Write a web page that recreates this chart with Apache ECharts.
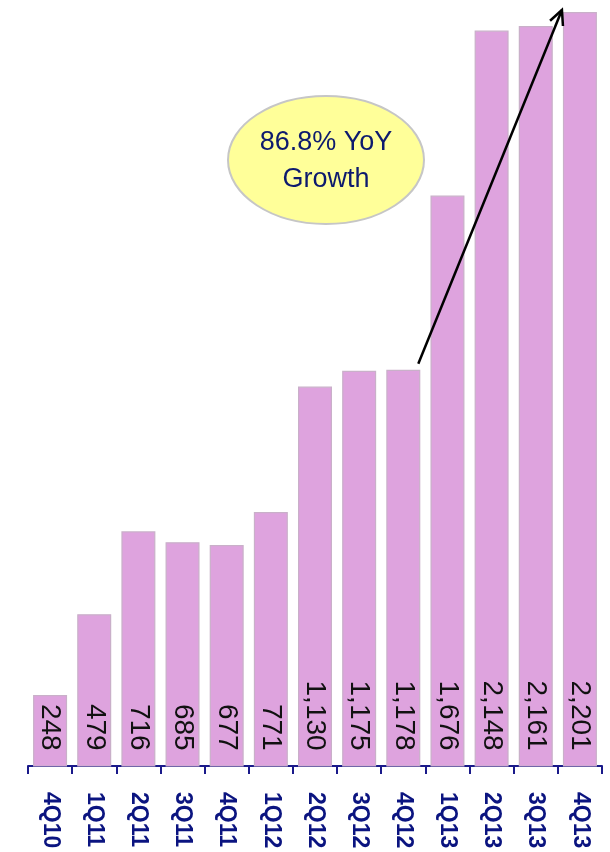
<!DOCTYPE html>
<html>
<head>
<meta charset="utf-8">
<script src="https://cdn.jsdelivr.net/npm/echarts@6/dist/echarts.min.js"></script>
<style>
html,body{margin:0;padding:0;background:#fff;}
#chart{width:610px;height:852px;}
</style>
</head>
<body>
<div id="chart"></div>
<script>
var categories = ['4Q10','1Q11','2Q11','3Q11','4Q11','1Q12','2Q12','3Q12','4Q12','1Q13','2Q13','3Q13','4Q13'];
var values = [248, 479, 716, 685, 677, 771, 1130, 1175, 1178, 1676, 2148, 2161, 2201];
var calloutLines = ['86.8% YoY', 'Growth'];
var arrowFrom = ['4Q12', 1178];
var arrowTo = ['4Q13', 2201];

var chart = echarts.init(document.getElementById('chart'), null, {renderer: 'canvas'});
var navy = '#0b1480';
chart.setOption({
  animation: false,
  grid: {left: 28, right: 8, top: 12, bottom: 86, containLabel: false},
  xAxis: {
    type: 'category',
    data: categories,
    boundaryGap: true,
    axisLine: {show: true, lineStyle: {color: '#1a1a8a', width: 2}},
    axisTick: {show: true, alignWithLabel: false, length: 8, inside: false, lineStyle: {color: '#1a1a8a', width: 2}},
    axisLabel: {
      interval: 0, rotate: -90, margin: 26,
      color: navy, fontWeight: 'bold', fontSize: 23,
      fontFamily: 'Liberation Sans'
    }
  },
  yAxis: {
    type: 'value', min: 45, max: 2201, show: false,
    splitLine: {show: false}
  },
  series: [{
    type: 'bar',
    data: values,
    barWidth: 34,
    itemStyle: {color: '#dea3de', borderColor: '#c9b0c9', borderWidth: 1.2},
    label: {
      show: true,
      position: 'insideBottom',
      distance: 16,
      rotate: -90,
      align: 'right',
      verticalAlign: 'middle',
      fontSize: 28,
      fontFamily: 'Liberation Sans',
      color: '#111',
      formatter: function (p) { return p.value.toLocaleString('en-US'); }
    }
  }]
});

var p1 = chart.convertToPixel({gridIndex: 0}, arrowFrom);
var p2 = chart.convertToPixel({gridIndex: 0}, arrowTo);
var sx = p1[0] + 15, sy = p1[1] - 6;
var ex = p2[0] - 18, ey = p2[1] - 2;
var ang = Math.atan2(ey - sy, ex - sx);
var hl = 16, ha = 0.45;
var h1 = [ex - hl * Math.cos(ang - ha), ey - hl * Math.sin(ang - ha)];
var h2 = [ex - hl * Math.cos(ang + ha), ey - hl * Math.sin(ang + ha)];

chart.setOption({
  graphic: [
    {type: 'line', shape: {x1: sx, y1: sy, x2: ex, y2: ey}, style: {stroke: '#000', lineWidth: 2.5}, z: 100},
    {type: 'polyline', shape: {points: [h1, [ex, ey], h2]}, style: {stroke: '#000', lineWidth: 2.5, fill: null}, z: 100},
    {type: 'ellipse', shape: {cx: 326, cy: 160, rx: 98, ry: 64}, style: {fill: '#ffff99', stroke: '#c6c6c6', lineWidth: 2}, z: 100},
    {type: 'text', x: 326, y: 143, style: {text: calloutLines[0], fill: '#0d1a6e', font: '27px "Liberation Sans"', textAlign: 'center', textVerticalAlign: 'middle'}, z: 101},
    {type: 'text', x: 326, y: 180, style: {text: calloutLines[1], fill: '#0d1a6e', font: '27px "Liberation Sans"', textAlign: 'center', textVerticalAlign: 'middle'}, z: 101}
  ]
});
</script>
</body>
</html>
